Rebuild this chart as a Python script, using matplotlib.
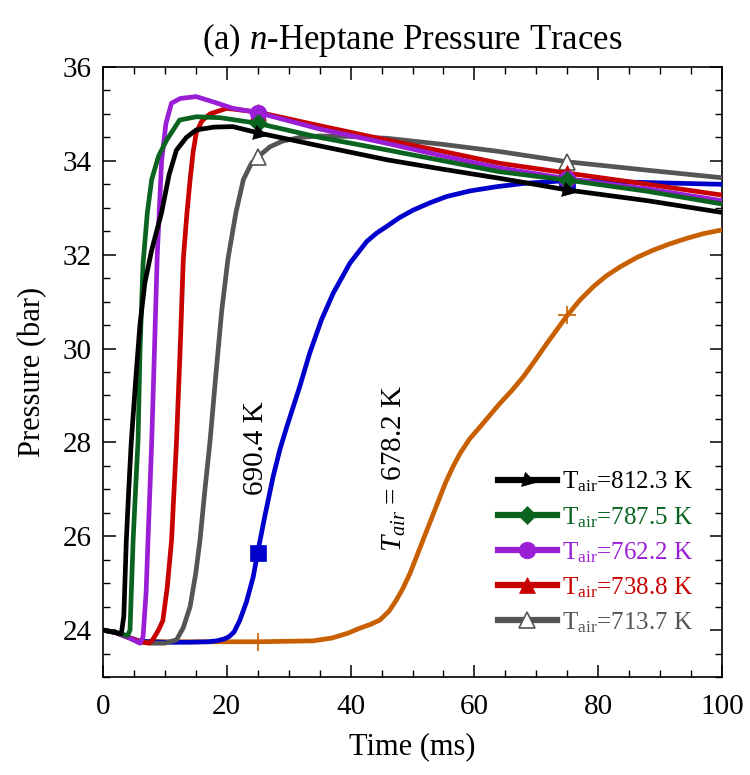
import matplotlib
matplotlib.use("Agg")
import matplotlib.pyplot as plt
from matplotlib.ticker import MultipleLocator

plt.rcParams['font.family'] = ['Liberation Serif', 'DejaVu Serif']
plt.rcParams['mathtext.fontset'] = 'custom'
plt.rcParams['mathtext.rm'] = 'Liberation Serif'
plt.rcParams['mathtext.it'] = 'Liberation Serif:italic'

# pressure traces (time in ms, pressure in bar)
t_812 = [0, 2, 3, 3.4, 3.8, 4.2, 4.6, 5.3, 6.0, 6.8, 7.9, 9.5, 10.7, 11.9, 13.5, 15.1, 18, 21, 25, 35, 46, 55, 64, 75, 88, 100]
p_812 = [24.0, 23.95, 23.92, 24.3, 25.9, 27.0, 28.0, 29.3, 30.5, 31.4, 32.1, 32.9, 33.7, 34.23, 34.5, 34.66, 34.72, 34.73, 34.6, 34.32, 34.02, 33.82, 33.63, 33.38, 33.15, 32.9]

t_787 = [0, 2, 4.0, 4.4, 4.9, 5.3, 5.7, 6.0, 6.5, 7.2, 7.9, 9, 10.3, 12.4, 15.1, 19, 25, 35, 46, 55, 64, 75, 88, 100]
p_787 = [24.0, 23.95, 23.88, 24.0, 25.9, 27.0, 28.05, 29.9, 31.8, 32.9, 33.6, 34.1, 34.44, 34.87, 34.94, 34.92, 34.8, 34.5, 34.23, 34.0, 33.77, 33.59, 33.35, 33.08]

t_762 = [0, 2, 4, 6, 6.5, 7.0, 7.3, 7.9, 8.4, 8.8, 9.5, 10.2, 11.1, 12.5, 15.1, 18, 21, 25, 35, 46, 55, 64, 75, 88, 100]
p_762 = [24.0, 23.95, 23.85, 23.72, 23.85, 24.8, 25.9, 28.0, 30.2, 32.0, 34.0, 34.8, 35.23, 35.33, 35.37, 35.25, 35.12, 35.03, 34.68, 34.37, 34.1, 33.85, 33.62, 33.4, 33.15]

t_738 = [0, 2, 4, 6, 7.5, 8.1, 9.0, 9.7, 10.4, 11.1, 11.9, 12.5, 13.0, 13.6, 14.1, 14.6, 15.1, 16, 17.3, 20, 25, 35, 46, 55, 64, 75, 88, 100]
p_738 = [24.0, 23.95, 23.85, 23.75, 23.72, 23.8, 24.0, 24.2, 24.9, 25.9, 28.0, 30.0, 31.9, 32.9, 33.6, 34.2, 34.6, 34.85, 35.0, 35.12, 35.04, 34.75, 34.44, 34.2, 33.95, 33.74, 33.5, 33.27]

t_713 = [0, 2, 4, 6, 8, 10, 11.9, 13, 14.1, 15, 15.7, 16.5, 17.3, 18.3, 19.2, 20.2, 21.5, 22.7, 24, 25, 27, 29, 31.8, 35, 40, 46, 55, 64, 75, 88, 100]
p_713 = [24.0, 23.95, 23.85, 23.75, 23.72, 23.72, 23.79, 24.05, 24.5, 25.2, 25.92, 27.0, 28.0, 29.5, 30.8, 31.9, 32.9, 33.6, 33.95, 34.08, 34.3, 34.42, 34.5, 34.53, 34.52, 34.48, 34.35, 34.2, 33.98, 33.8, 33.64]

t_690 = [0, 2, 4, 6, 10, 14, 17, 18.4, 19.6, 20.4, 21.2, 22.1, 23.2, 24.3, 25, 26.2, 27.5, 28.6, 29.7, 31.8, 33.4, 35.3, 37.2, 39.9, 42.6, 44.2, 45.8, 47.9, 50.1, 52.7, 55.5, 59.3, 63.6, 68, 75, 84, 100]
p_690 = [24.0, 23.95, 23.85, 23.76, 23.74, 23.74, 23.75, 23.77, 23.81, 23.86, 23.96, 24.2, 24.6, 25.14, 25.65, 26.45, 27.27, 27.85, 28.33, 29.19, 29.9, 30.61, 31.18, 31.82, 32.28, 32.46, 32.6, 32.79, 32.95, 33.1, 33.24, 33.36, 33.45, 33.52, 33.58, 33.55, 33.5]

t_678 = [0, 2, 4, 6, 10, 25, 34, 37, 39.5, 41.5, 43.2, 44.7, 46.2, 47.4, 48.5, 49.6, 51.5, 53.4, 55.3, 56.6, 57.7, 59.2, 60.9, 62.5, 64.1, 66, 67.9, 69.8, 71.7, 75, 77, 79.2, 81.3, 83.5, 86.2, 88.9, 91.5, 94.3, 97, 100]
p_678 = [24.0, 23.95, 23.85, 23.76, 23.75, 23.75, 23.77, 23.83, 23.93, 24.04, 24.12, 24.21, 24.4, 24.64, 24.9, 25.21, 25.85, 26.49, 27.13, 27.5, 27.77, 28.07, 28.33, 28.58, 28.83, 29.1, 29.4, 29.75, 30.11, 30.71, 31.03, 31.32, 31.55, 31.74, 31.94, 32.1, 32.23, 32.35, 32.45, 32.53]

labels = ['812.3', '787.5', '762.2', '738.8', '713.7']
colors = ['#000000', '#0a6420', '#9b1ed7', '#c80000', '#555555', '#0000cc', '#c85f00']
marker_times = [25, 75]

series = [(t_812, p_812), (t_787, p_787), (t_762, p_762), (t_738, p_738),
          (t_713, p_713), (t_690, p_690), (t_678, p_678)]
markers = [(3, 0, -105), 'D', 'o', '^', '^', 's', '+']
msizes = [12, 9, 12, 11, 11, 12, 13]

fig = plt.figure(figsize=(7.5, 7.75), dpi=100)
ax = fig.add_axes([0.137, 0.1265, 0.826, 0.787])

handles = []
for i, (t, p) in enumerate(series):
    c = colors[i]
    idx = [t.index(m) for m in marker_times]
    face = 'white' if i == 4 else c
    mew = 1.2 if i in (4, 6) else 0.5
    line, = ax.plot(t, p, color=c, lw=3.4, marker=markers[i], ms=msizes[i],
                    markevery=idx, mfc=face, mec=c, mew=mew, zorder=10 - i,
                    solid_joinstyle='round')
    if i < 5:
        handles.append(line)

leg = ax.legend(handles, [r'T$_{\mathrm{air}}$=' + l + ' K' for l in labels],
                loc='upper left', bbox_to_anchor=(0.622, 0.356), frameon=False,
                fontsize=18, handlelength=2.35, handletextpad=0.2,
                labelspacing=0.42, numpoints=1, borderaxespad=0)
for txt, c in zip(leg.get_texts(), colors):
    txt.set_color(c)
for h in leg.legend_handles:
    h.set_linewidth(4.5)

ax.text(24.7, 27.88, '690.4 K', rotation=90, fontsize=21, ha='center', va='center')
ax.text(47.0, 27.44, r'$T_{air}$ = 678.2 K', rotation=90, fontsize=21,
        ha='center', va='center')

ax.set_xlim(0, 100)
ax.set_ylim(23, 36)
ax.xaxis.set_major_locator(MultipleLocator(20))
ax.xaxis.set_minor_locator(MultipleLocator(5))
ax.yaxis.set_major_locator(MultipleLocator(2))
ax.yaxis.set_minor_locator(MultipleLocator(0.5))
ax.tick_params(which='both', direction='in', top=True, right=True, labelsize=21)
ax.tick_params(which='major', length=9, width=1.1)
ax.tick_params(which='minor', length=5, width=1.0)
ax.tick_params(axis='x', pad=12)
ax.tick_params(axis='y', pad=8)
for s in ax.spines.values():
    s.set_linewidth(1.2)

ax.set_xlabel('Time (ms)', fontsize=22, labelpad=9)
ax.set_ylabel('Pressure (bar)', fontsize=22, labelpad=11)
ax.set_title('(a) $n$-Heptane Pressure Traces', fontsize=25, pad=13)

fig.savefig('out.png', dpi=100)
